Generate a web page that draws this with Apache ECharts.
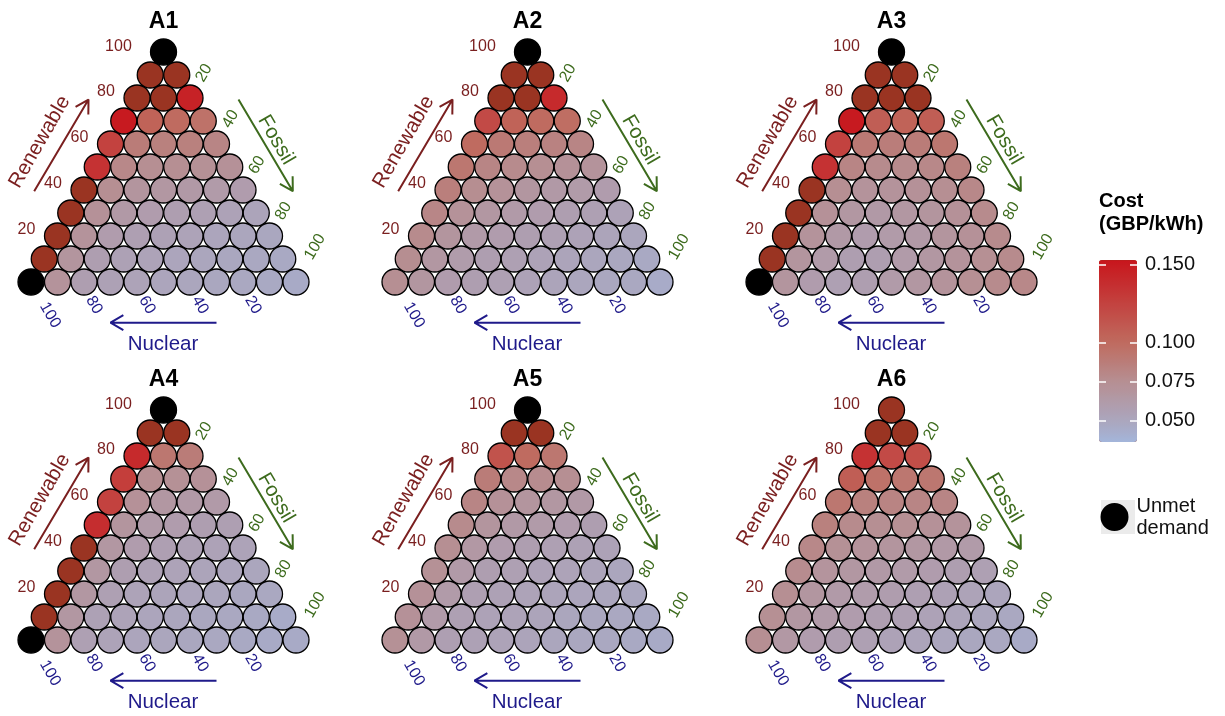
<!DOCTYPE html>
<html>
<head>
<meta charset="utf-8">
<script src="https://cdn.jsdelivr.net/npm/echarts@6/dist/echarts.min.js"></script>
<style>
  html, body { margin: 0; padding: 0; background: #ffffff; }
  #chart { width: 1225px; height: 716px; }
</style>
</head>
<body>
<div id="chart"></div>
<script>
// Scenario panels
const panelNames = ['A1', 'A2', 'A3', 'A4', 'A5', 'A6'];
// Ternary tick values (percent share)
const tickValues = [20, 40, 60, 80, 100];
// Colour-bar tick labels (GBP/kWh)
const costTicks = [0.05, 0.075, 0.1, 0.15];
const costMin = 0.0365;
const costMax = 0.153;

// Cost in GBP/kWh. Rows run from 100% renewable (top) down to 0% renewable;
// each row runs from most nuclear (left) to most fossil (right).
// null = unmet demand; values above the colour-bar maximum are drawn dark brown.
const costA1 = [
  [null],
  [0.19, 0.19],
  [0.19, 0.19, 0.145],
  [0.150, 0.105, 0.100, 0.095],
  [0.125, 0.088, 0.085, 0.085, 0.082],
  [0.135, 0.080, 0.075, 0.075, 0.073, 0.072],
  [0.19, 0.075, 0.068, 0.066, 0.064, 0.062, 0.060],
  [0.19, 0.072, 0.064, 0.060, 0.058, 0.056, 0.054, 0.052],
  [0.19, 0.070, 0.060, 0.057, 0.055, 0.053, 0.051, 0.050, 0.049],
  [0.19, 0.068, 0.058, 0.055, 0.053, 0.051, 0.050, 0.049, 0.048, 0.047],
  [null, 0.070, 0.058, 0.055, 0.053, 0.051, 0.050, 0.049, 0.048, 0.047, 0.046]
];
const costA2 = [
  [null],
  [0.19, 0.19],
  [0.19, 0.19, 0.140],
  [0.120, 0.105, 0.100, 0.098],
  [0.100, 0.090, 0.086, 0.084, 0.082],
  [0.092, 0.082, 0.078, 0.075, 0.072, 0.070],
  [0.086, 0.076, 0.071, 0.067, 0.064, 0.062, 0.060],
  [0.081, 0.071, 0.066, 0.063, 0.060, 0.058, 0.056, 0.054],
  [0.078, 0.068, 0.063, 0.060, 0.058, 0.056, 0.054, 0.052, 0.050],
  [0.076, 0.066, 0.061, 0.058, 0.056, 0.054, 0.052, 0.050, 0.049, 0.047],
  [0.075, 0.067, 0.060, 0.058, 0.056, 0.054, 0.052, 0.050, 0.049, 0.048, 0.045]
];
const costA3 = [
  [null],
  [0.19, 0.19],
  [0.19, 0.19, 0.19],
  [0.150, 0.108, 0.105, 0.108],
  [0.125, 0.090, 0.087, 0.088, 0.092],
  [0.135, 0.082, 0.078, 0.078, 0.080, 0.085],
  [0.19, 0.075, 0.070, 0.070, 0.072, 0.075, 0.080],
  [0.19, 0.072, 0.066, 0.064, 0.066, 0.068, 0.072, 0.078],
  [0.19, 0.070, 0.064, 0.060, 0.062, 0.064, 0.068, 0.072, 0.078],
  [0.19, 0.068, 0.062, 0.058, 0.058, 0.062, 0.066, 0.070, 0.074, 0.078],
  [null, 0.068, 0.060, 0.056, 0.058, 0.062, 0.066, 0.070, 0.074, 0.078, 0.080]
];
const costA4 = [
  [null],
  [0.19, 0.19],
  [0.140, 0.092, 0.088],
  [0.128, 0.075, 0.073, 0.072],
  [0.125, 0.072, 0.066, 0.064, 0.063],
  [0.138, 0.068, 0.062, 0.060, 0.058, 0.057],
  [0.19, 0.066, 0.060, 0.057, 0.055, 0.054, 0.053],
  [0.19, 0.066, 0.058, 0.055, 0.053, 0.052, 0.051, 0.050],
  [0.19, 0.066, 0.056, 0.053, 0.052, 0.051, 0.050, 0.049, 0.048],
  [0.19, 0.066, 0.055, 0.053, 0.051, 0.050, 0.049, 0.048, 0.047, 0.045],
  [null, 0.070, 0.056, 0.053, 0.051, 0.050, 0.049, 0.048, 0.047, 0.046, 0.046]
];
const costA5 = [
  [null],
  [0.19, 0.19],
  [0.115, 0.100, 0.092],
  [0.088, 0.080, 0.077, 0.075],
  [0.082, 0.072, 0.068, 0.066, 0.064],
  [0.078, 0.068, 0.064, 0.062, 0.060, 0.058],
  [0.075, 0.065, 0.060, 0.058, 0.056, 0.055, 0.054],
  [0.073, 0.063, 0.058, 0.056, 0.054, 0.053, 0.052, 0.050],
  [0.072, 0.062, 0.057, 0.055, 0.053, 0.052, 0.051, 0.050, 0.049],
  [0.072, 0.062, 0.056, 0.054, 0.053, 0.052, 0.050, 0.049, 0.048, 0.047],
  [0.073, 0.064, 0.057, 0.055, 0.053, 0.052, 0.050, 0.049, 0.048, 0.047, 0.046]
];
const costA6 = [
  [0.19],
  [0.19, 0.19],
  [0.135, 0.120, 0.118],
  [0.108, 0.095, 0.092, 0.092],
  [0.092, 0.085, 0.083, 0.082, 0.082],
  [0.085, 0.078, 0.075, 0.074, 0.072, 0.070],
  [0.080, 0.073, 0.070, 0.068, 0.066, 0.064, 0.062],
  [0.077, 0.069, 0.066, 0.064, 0.062, 0.060, 0.058, 0.056],
  [0.075, 0.067, 0.063, 0.061, 0.059, 0.057, 0.055, 0.053, 0.051],
  [0.074, 0.066, 0.062, 0.060, 0.058, 0.056, 0.054, 0.052, 0.050, 0.048],
  [0.075, 0.065, 0.060, 0.058, 0.056, 0.054, 0.052, 0.050, 0.049, 0.048, 0.046]
];
const panelCosts = [costA1, costA2, costA3, costA4, costA5, costA6];

// ---- styling ----
const FONT = '"Liberation Sans", Arial, Helvetica, sans-serif';
const COL_REN = '#7a1f1f';
const COL_FOS = '#3d6b1d';
const COL_NUC = '#1f1a8a';
const COL_HIGH = '#9a3422';
const H = Math.sqrt(3) / 2 * 100;   // triangle height in data units

// colour ramp anchors (value, colour) sampled into an even list for visualMap
const rampAnchors = [
  [0.0365, '#a3b5da'],
  [0.050, '#aba6bd'],
  [0.075, '#b68f93'],
  [0.100, '#bf6b5f'],
  [0.153, '#c8151c']
];
function hexToRgb(h) { return [1, 3, 5].map(i => parseInt(h.slice(i, i + 2), 16)); }
function buildRamp(stops, min, max, n) {
  const out = [];
  for (let i = 0; i < n; i++) {
    const v = min + (max - min) * i / (n - 1);
    let j = 0;
    while (j < stops.length - 2 && v > stops[j + 1][0]) j++;
    const a = hexToRgb(stops[j][1]), b = hexToRgb(stops[j + 1][1]);
    const t = Math.min(1, Math.max(0, (v - stops[j][0]) / (stops[j + 1][0] - stops[j][0])));
    out.push('rgb(' + a.map((x, k) => Math.round(x + (b[k] - x) * t)).join(',') + ')');
  }
  return out;
}

// ternary (renewable, fossil) -> cartesian data coords
function tern(ren, fos) { return [fos + ren / 2, ren * Math.sqrt(3) / 2]; }

function arrowPath(from, to, len, ang) {
  const dx = from[0] - to[0], dy = from[1] - to[1];
  const d = Math.hypot(dx, dy), ux = dx / d, uy = dy / d;
  const rot = a => [to[0] + len * (ux * Math.cos(a) - uy * Math.sin(a)),
                    to[1] + len * (ux * Math.sin(a) + uy * Math.cos(a))];
  return [from, to, rot(ang), to, rot(-ang)];
}

const grids = [], xAxes = [], yAxes = [], series = [], costSeriesIdx = [], graphics = [];
const GRID_W = 265, GRID_H = 230;
const hidden = { color: 'rgba(0,0,0,0)', opacity: 1 };

panelNames.forEach((name, p) => {
  const col = p % 3, row = Math.floor(p / 3);
  const left = 31 + 364 * col, top = 52 + 358 * row;
  grids.push({ left: left, top: top, width: GRID_W, height: GRID_H });
  xAxes.push({ gridIndex: p, type: 'value', min: 0, max: 100, show: false });
  yAxes.push({ gridIndex: p, type: 'value', min: 0, max: H, show: false });

  graphics.push({
    type: 'text', x: left + GRID_W / 2, y: top - 30,
    style: { text: name, fill: '#000', font: 'bold 23px ' + FONT, align: 'center', verticalAlign: 'middle' }
  });

  const costPts = [], unmetPts = [];
  panelCosts[p].forEach((rowVals, k) => {
    const ren = 100 - 10 * k;
    rowVals.forEach((v, c) => {
      const xy = tern(ren, 10 * c);
      if (v === null) unmetPts.push(xy);
      else costPts.push([xy[0], xy[1], v]);
    });
  });

  costSeriesIdx.push(series.length);
  series.push({
    type: 'scatter', xAxisIndex: p, yAxisIndex: p, data: costPts,
    symbolSize: 26, itemStyle: { borderColor: '#000', borderWidth: 1.3, opacity: 1 },
    clip: false, silent: true, z: 2
  });
  series.push({
    name: 'Unmet demand', type: 'scatter', xAxisIndex: p, yAxisIndex: p, data: unmetPts,
    symbolSize: 26, itemStyle: { color: '#000', borderColor: '#000', borderWidth: 1.3, opacity: 1 },
    clip: false, silent: true, z: 2
  });

  // tick labels placed just outside each edge of the triangle
  const tickItems = [];
  tickValues.forEach(t => {
    const big = t === 100;
    const r = tern(t, 0);
    tickItems.push({ name: String(t), value: big ? [r[0] - 17, r[1] + 1.9] : [r[0] - 11.7, r[1] + 2.3],
      label: { color: COL_REN, rotate: 0 } });
    const f = tern(100 - t, t);
    tickItems.push({ name: String(t), value: big ? [f[0] + 7.2, f[1] + 13.2] : [f[0] + 5.3, f[1] + 9.4],
      label: { color: COL_FOS, rotate: 60 } });
    const n = tern(0, 100 - t);
    tickItems.push({ name: String(t), value: big ? [n[0] + 7.2, n[1] - 12.5] : [n[0] + 3.8, n[1] - 8.7],
      label: { color: COL_NUC, rotate: -60 } });
  });
  series.push({
    type: 'scatter', xAxisIndex: p, yAxisIndex: p, data: tickItems, symbolSize: 1,
    itemStyle: hidden, clip: false, silent: true,
    label: { show: true, position: 'inside', formatter: '{b}', fontSize: 16, fontFamily: FONT, opacity: 1 }
  });

  // axis titles
  series.push({
    type: 'scatter', xAxisIndex: p, yAxisIndex: p, symbolSize: 1,
    itemStyle: hidden, clip: false, silent: true,
    label: { show: true, position: 'inside', formatter: '{b}', fontSize: 20.5, fontFamily: FONT, opacity: 1 },
    data: [
      { name: 'Renewable', value: [3.3, 52.7], label: { color: COL_REN, rotate: 60 } },
      { name: 'Fossil', value: [92.5, 53.5], label: { color: COL_FOS, rotate: -60 } },
      { name: 'Nuclear', value: [49.8, -23.3], label: { color: COL_NUC } }
    ]
  });

  // direction arrows
  [
    [[1.2, 34.2], [21.7, 68.7], COL_REN],
    [[78.3, 68.7], [98.8, 34.2], COL_FOS],
    [[70.0, -15.3], [30.0, -15.3], COL_NUC]
  ].forEach(a => {
    series.push({
      type: 'line', xAxisIndex: p, yAxisIndex: p, data: arrowPath(a[0], a[1], 5.6, Math.PI / 6),
      symbol: 'none', showSymbol: false, clip: false, silent: true,
      lineStyle: { color: a[2], width: 2, opacity: 1 }, z: 3
    });
  });
});

// colour-bar axes: labels on the right, short white ticks on both edges of the bar
const cbGrid = grids.length;
const CB_W = 38;
grids.push({ left: 1099, top: 260, width: CB_W, height: 182 });
xAxes.push({ gridIndex: cbGrid, type: 'value', show: false });
const cbAxisBase = {
  gridIndex: cbGrid, type: 'value', min: costMin, max: costMax, z: 10,
  axisLine: { show: false }, splitLine: { show: false }
};
const whiteTick = (inside) => ({ show: true, inside: inside, length: 7, customValues: costTicks,
  lineStyle: { color: '#ffffff', width: 1.5 } });
yAxes.push(Object.assign({}, cbAxisBase, {
  position: 'right',
  axisTick: { show: false },
  axisLabel: { show: true, customValues: costTicks, formatter: v => v.toFixed(3), fontSize: 20, color: '#111', margin: 8, fontFamily: FONT }
}));
yAxes.push(Object.assign({}, cbAxisBase, {
  position: 'left',
  axisTick: whiteTick(true),
  axisLabel: { show: false }
}));
yAxes.push(Object.assign({}, cbAxisBase, {
  position: 'left', offset: -CB_W,
  axisTick: whiteTick(false),
  axisLabel: { show: false }
}));

graphics.push({
  type: 'text', x: 1099, y: 190,
  style: { text: 'Cost\n(GBP/kWh)', fill: '#000', font: 'bold 20px ' + FONT, lineHeight: 23, align: 'left', verticalAlign: 'top' }
});
graphics.push({
  type: 'rect', shape: { x: 1101, y: 500, width: 34, height: 34 }, style: { fill: '#ebebeb' }, z: 0
});

const option = {
  animation: false,
  backgroundColor: '#ffffff',
  textStyle: { fontFamily: FONT },
  grid: grids,
  xAxis: xAxes,
  yAxis: yAxes,
  visualMap: {
    type: 'continuous',
    min: costMin, max: costMax,
    range: [costMin, costMax - 0.0001],
    dimension: 2,
    seriesIndex: costSeriesIdx,
    calculable: false,
    padding: 0,
    left: 1099, top: 260,
    itemWidth: CB_W, itemHeight: 182,
    inRange: { color: buildRamp(rampAnchors, costMin, costMax, 40) },
    outOfRange: { color: COL_HIGH }
  },
  legend: {
    data: ['Unmet demand'],
    left: 1100.5, top: 495,
    padding: 0,
    icon: 'circle',
    itemWidth: 34, itemHeight: 26,
    selectedMode: false,
    formatter: () => 'Unmet\ndemand',
    textStyle: { fontSize: 20, color: '#111', lineHeight: 22, fontFamily: FONT }
  },
  graphic: graphics,
  series: series
};

const chart = echarts.init(document.getElementById('chart'), null, { renderer: 'canvas' });
chart.setOption(option);
</script>
</body>
</html>
